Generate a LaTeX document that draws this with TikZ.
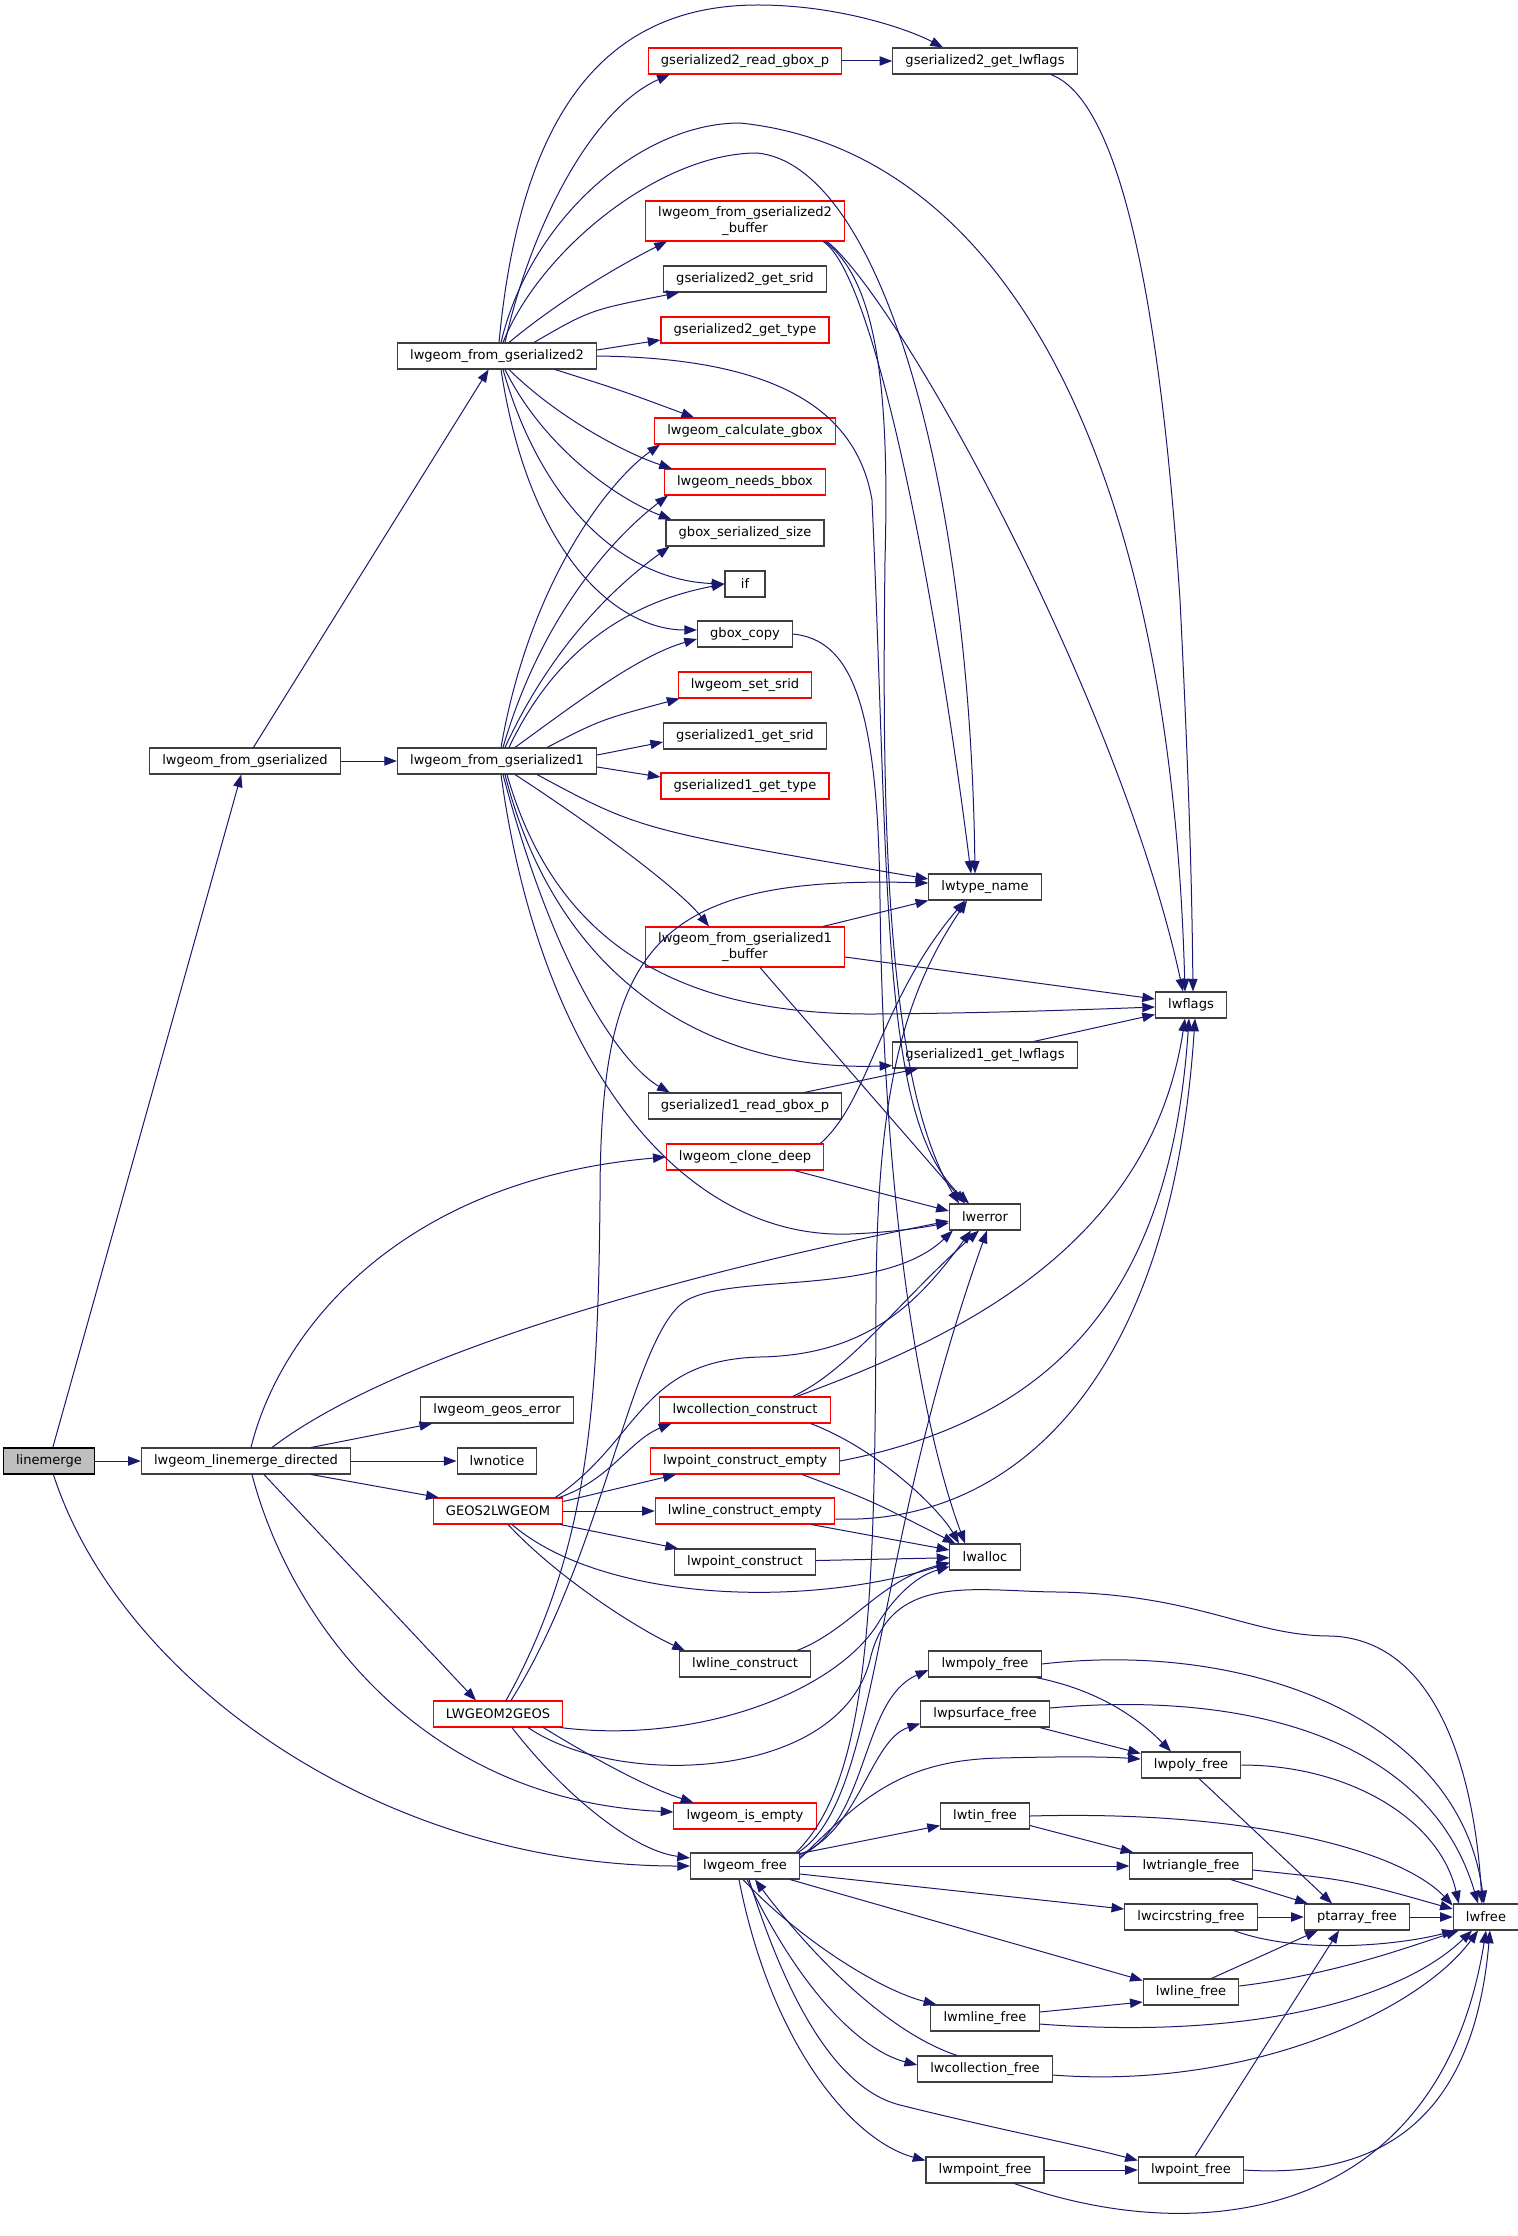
\documentclass[tikz,border=0pt]{standalone}
\usepackage{fontspec}
\setmainfont{DejaVu Sans}
\usepackage{xcolor}
\usepackage{tikz}
\usetikzlibrary{calc,arrows.meta}
\definecolor{callblue}{HTML}{191970}
\definecolor{boxline}{HTML}{3F3F3F}
\definecolor{truncred}{HTML}{FF0000}
\definecolor{rootgray}{HTML}{BFBFBF}
\tikzset{
  fnbox/.style={draw=boxline, fill=white, line width=0.8pt, rectangle,
    minimum height=19.5pt, minimum width=30pt, inner xsep=9.5pt, inner ysep=2pt,
    font=\fontsize{9.8}{11.5}\selectfont},
  fntrunc/.style={fnbox, draw=truncred},
  fnroot/.style={fnbox, draw=black, fill=rootgray},
  twoline/.style={align=center, minimum height=30pt},
  callarrow/.style={draw=callblue, line width=0.75pt, -{Triangle[length=9.5pt,width=7pt]}}
}
\begin{document}
\begin{tikzpicture}[x=0.75pt,y=-0.75pt]
  \useasboundingbox (0,0) rectangle (1517,2236);

  % callers
  \node[fnroot] (lm) at (49,1461) {linemerge};
  \node[fnbox] (lfg) at (245,761) {lwgeom\_from\_gserialized};
  \node[fnbox] (ld) at (246,1461) {lwgeom\_linemerge\_directed};
  \node[fnbox] (g2) at (497,356) {lwgeom\_from\_gserialized2};
  \node[fnbox] (g1) at (497,761) {lwgeom\_from\_gserialized1};
  \node[fnbox] (geoserr) at (497,1410) {lwgeom\_geos\_error};
  \node[fnbox] (notice) at (497,1461) {lwnotice};
  \node[fntrunc] (g2l) at (498,1511) {GEOS2LWGEOM};
  \node[fntrunc] (l2g) at (498,1714) {LWGEOM2GEOS};

  % middle column
  \node[fntrunc] (g2rgb) at (745,61) {gserialized2\_read\_gbox\_p};
  \node[fntrunc, twoline] (gs2buf) at (745,221) {lwgeom\_from\_gserialized2\\\_buffer};
  \node[fnbox] (g2srid) at (745,279) {gserialized2\_get\_srid};
  \node[fntrunc] (g2type) at (745,330) {gserialized2\_get\_type};
  \node[fntrunc] (calcgbox) at (745,431) {lwgeom\_calculate\_gbox};
  \node[fntrunc] (needsbbox) at (745,482) {lwgeom\_needs\_bbox};
  \node[fnbox] (gsersize) at (745,533) {gbox\_serialized\_size};
  \node[fnbox] (if) at (745,584) {if};
  \node[fnbox] (gboxcopy) at (745,634) {gbox\_copy};
  \node[fntrunc] (setsrid) at (745,685) {lwgeom\_set\_srid};
  \node[fnbox] (g1srid) at (745,736) {gserialized1\_get\_srid};
  \node[fntrunc] (g1type) at (745,786) {gserialized1\_get\_type};
  \node[fntrunc, twoline] (gs1buf) at (745,947) {lwgeom\_from\_gserialized1\\\_buffer};
  \node[fnbox] (g1rgb) at (745,1106) {gserialized1\_read\_gbox\_p};
  \node[fntrunc] (clone) at (745,1157) {lwgeom\_clone\_deep};
  \node[fntrunc] (collcons) at (745,1410) {lwcollection\_construct};
  \node[fntrunc] (ptce) at (745,1461) {lwpoint\_construct\_empty};
  \node[fntrunc] (lnce) at (745,1511) {lwline\_construct\_empty};
  \node[fnbox] (ptc) at (745,1562) {lwpoint\_construct};
  \node[fnbox] (lnc) at (745,1664) {lwline\_construct};
  \node[fntrunc] (isempty) at (745,1816) {lwgeom\_is\_empty};
  \node[fnbox] (gfree) at (745,1866) {lwgeom\_free};

  % right columns
  \node[fnbox] (g2lf) at (985,61) {gserialized2\_get\_lwflags};
  \node[fnbox] (lwtn) at (985,887) {lwtype\_name};
  \node[fnbox] (g1lf) at (985,1055) {gserialized1\_get\_lwflags};
  \node[fnbox] (lwerr) at (985,1217) {lwerror};
  \node[fnbox] (lwalloc) at (985,1557) {lwalloc};
  \node[fnbox] (mpoly) at (985,1664) {lwmpoly\_free};
  \node[fnbox] (psurf) at (985,1714) {lwpsurface\_free};
  \node[fnbox] (tin) at (985,1816) {lwtin\_free};
  \node[fnbox] (mline) at (985,2018) {lwmline\_free};
  \node[fnbox] (collfree) at (985,2069) {lwcollection\_free};
  \node[fnbox] (mpoint) at (985,2170) {lwmpoint\_free};
  \node[fnbox] (lwflags) at (1191,1005) {lwflags};
  \node[fnbox] (polyfree) at (1191,1765) {lwpoly\_free};
  \node[fnbox] (trifree) at (1191,1866) {lwtriangle\_free};
  \node[fnbox] (circfree) at (1191,1917) {lwcircstring\_free};
  \node[fnbox] (linefree) at (1191,1992) {lwline\_free};
  \node[fnbox] (pointfree) at (1191,2170) {lwpoint\_free};
  \node[fnbox] (ptarray) at (1357,1917) {ptarray\_free};
  \node[fnbox] (lwfree) at (1486,1917) {lwfree};

  % linemerge and lwgeom_from_gserialized
  \draw[callarrow] (lm) -- (lfg);
  \draw[callarrow] (lm) -- (ld);
  \draw[callarrow] (lm) .. controls (120,1680) and (380,1866) .. (gfree.west);
  \draw[callarrow] (lfg) -- (g2);
  \draw[callarrow] (lfg) -- (g1);

  % lwgeom_from_gserialized2
  \draw[callarrow] ($(g2.north)+(8,0)$) .. controls (530,230) and (590,110) .. ($(g2rgb.south west)+(22,0)$);
  \draw[callarrow] ($(g2.north)+(2,0)$) .. controls (520,120) and (600,5) .. (758,5) .. controls (840,5) and (910,30) .. ($(g2lf.north)+(-42,0)$);
  \draw[callarrow] ($(g2.north)+(4,0)$) .. controls (530,220) and (640,123) .. (740,123) .. controls (1000,150) and (1170,450) .. ($(lwflags.north)+(-6,0)$);
  \draw[callarrow] ($(g2.north)+(12,0)$) .. controls (560,300) and (620,265) .. ($(gs2buf.south west)+(22,0)$);
  \draw[callarrow] ($(g2.north)+(37,0)$) .. controls (590,310) .. ($(g2srid.south west)+(16,0)$);
  \draw[callarrow] ($(g2.east)+(0,-6)$) -- ($(g2type.west)+(0,10)$);
  \draw[callarrow] ($(g2.north)+(6,0)$) .. controls (540,250) and (660,153) .. (757,153) .. controls (880,165) and (970,480) .. ($(lwtn.north)+(-10,0)$);
  \draw[callarrow] (g2.east) .. controls (760,358) and (855,400) .. (872,500) .. controls (890,900) and (880,1120) .. ($(lwerr.north)+(-16,0)$);
  \draw[callarrow] ($(g2.south)+(58,0)$) .. controls (620,390) .. ($(calcgbox.north west)+(40,0)$);
  \draw[callarrow] ($(g2.south)+(12,0)$) .. controls (560,420) and (630,455) .. ($(needsbbox.north west)+(8,0)$);
  \draw[callarrow] ($(g2.south)+(8,0)$) .. controls (545,450) and (620,500) .. ($(gsersize.north west)+(6,0)$);
  \draw[callarrow] ($(g2.south)+(6,0)$) .. controls (540,500) and (620,580) .. (if.west);
  \draw[callarrow] ($(g2.south)+(4,0)$) .. controls (530,560) and (620,630) .. ($(gboxcopy.west)+(0,-4)$);

  % lwgeom_from_gserialized1
  \draw[callarrow] ($(g1.north)+(4,0)$) .. controls (530,580) and (610,480) .. ($(calcgbox.south west)+(6,0)$);
  \draw[callarrow] ($(g1.north)+(6,0)$) .. controls (540,620) and (610,540) .. ($(needsbbox.south west)+(4,0)$);
  \draw[callarrow] ($(g1.north)+(8,0)$) .. controls (550,650) and (610,590) .. ($(gsersize.south west)+(4,0)$);
  \draw[callarrow] ($(g1.north)+(12,0)$) .. controls (560,640) and (640,600) .. (if.west);
  \draw[callarrow] ($(g1.north)+(18,0)$) .. controls (580,700) and (640,655) .. ($(gboxcopy.west)+(0,5)$);
  \draw[callarrow] ($(g1.north)+(50,0)$) .. controls (600,720) .. ($(setsrid.south west)+(2,0)$);
  \draw[callarrow] ($(g1.east)+(0,-6)$) -- ($(g1srid.west)+(0,6)$);
  \draw[callarrow] ($(g1.east)+(0,6)$) -- ($(g1type.west)+(0,-9)$);
  \draw[callarrow] ($(g1.south)+(40,0)$) .. controls (640,830) .. ($(lwtn.west)+(0,-8)$);
  \draw[callarrow] ($(g1.south)+(18,0)$) .. controls (600,830) and (680,890) .. ($(gs1buf.north)+(-36,0)$);
  \draw[callarrow] ($(g1.south)+(10,0)$) .. controls (560,960) and (700,1015) .. (875,1014) .. controls (1000,1013) and (1100,1009) .. ($(lwflags.west)+(0,2)$);
  \draw[callarrow] ($(g1.south)+(8,0)$) .. controls (560,990) and (720,1072) .. ($(g1lf.south west)+(0,-3)$);
  \draw[callarrow] ($(g1.south)+(6,0)$) .. controls (560,990) and (630,1070) .. ($(g1rgb.north west)+(22,0)$);
  \draw[callarrow] ($(g1.south)+(4,0)$) .. controls (540,1060) and (680,1240) .. (850,1234) .. controls (900,1232) and (930,1226) .. ($(lwerr.west)+(0,6)$);

  % helpers of the readers
  \draw[callarrow] (g2rgb) -- (g2lf);
  \draw[callarrow] ($(g2lf.south east)+(-27,0)$) .. controls (1120,100) and (1160,300) .. (1180,600) .. controls (1190,800) and (1192,900) .. ($(lwflags.north)+(2,0)$);
  \draw[callarrow] ($(gs2buf.south east)+(-22,0)$) .. controls (870,270) and (930,550) .. ($(lwtn.north)+(-14,0)$);
  \draw[callarrow] ($(gs2buf.south east)+(-20,0)$) .. controls (875,280) and (890,380) .. (885,560) .. controls (882,800) and (884,1080) .. ($(lwerr.north)+(-26,0)$);
  \draw[callarrow] ($(gs2buf.south east)+(-18,0)$) .. controls (900,300) and (1120,700) .. ($(lwflags.north)+(-8,0)$);
  \draw[callarrow] (gboxcopy.east) .. controls (850,640) and (878,700) .. (880,900) .. controls (884,1250) and (930,1450) .. ($(lwalloc.north)+(-20,0)$);
  \draw[callarrow] ($(gs1buf.north east)+(-22,0)$) -- (lwtn.south west);
  \draw[callarrow] ($(gs1buf.east)+(0,10)$) -- ($(lwflags.west)+(0,-6)$);
  \draw[callarrow] ($(gs1buf.south)+(15,0)$) -- ($(lwerr.north)+(-20,0)$);
  \draw[callarrow] ($(g1rgb.north east)+(-38,0)$) -- ($(g1lf.south west)+(26,0)$);
  \draw[callarrow] ($(g1lf.north east)+(-44,0)$) -- ($(lwflags.south west)+(0,-4)$);
  \draw[callarrow] ($(clone.north east)+(-4,0)$) .. controls (870,1100) and (880,1000) .. ($(lwtn.south)+(-20,0)$);
  \draw[callarrow] ($(clone.south east)+(-30,0)$) -- ($(lwerr.west)+(0,-6)$);

  % lwgeom_linemerge_directed
  \draw[callarrow] ($(ld.north)+(5,0)$) .. controls (280,1330) and (400,1180) .. (clone.west);
  \draw[callarrow] ($(ld.north)+(26,0)$) .. controls (400,1350) and (700,1270) .. ($(lwerr.west)+(0,4)$);
  \draw[callarrow] ($(ld.north east)+(-40,0)$) -- ($(geoserr.south west)+(12,0)$);
  \draw[callarrow] (ld) -- (notice);
  \draw[callarrow] ($(ld.south east)+(-40,0)$) -- ($(g2l.north west)+(6,0)$);
  \draw[callarrow] ($(ld.south)+(18,0)$) -- ($(l2g.north)+(-22,0)$);
  \draw[callarrow] ($(ld.south)+(6,0)$) .. controls (290,1620) and (420,1800) .. ($(isempty.west)+(0,-4)$);

  % GEOS2LWGEOM
  \draw[callarrow] ($(g2l.north east)+(-4,0)$) .. controls (610,1480) and (630,1440) .. ($(collcons.south west)+(12,0)$);
  \draw[callarrow] ($(g2l.north east)+(0,4)$) -- ($(ptce.south west)+(26,0)$);
  \draw[callarrow] (g2l) -- (lnce);
  \draw[callarrow] ($(g2l.south east)+(-3,0)$) -- ($(ptc.north west)+(4,0)$);
  \draw[callarrow] ($(g2l.south)+(10,0)$) .. controls (560,1580) and (640,1630) .. ($(lnc.north west)+(6,0)$);
  \draw[callarrow] ($(g2l.south)+(14,0)$) .. controls (600,1600) and (800,1610) .. ($(lwalloc.west)+(0,6)$);
  \draw[callarrow] ($(g2l.north east)+(-8,0)$) .. controls (640,1440) and (640,1360) .. (760,1357) .. controls (870,1355) and (920,1300) .. ($(lwerr.south)+(-14,0)$);

  % LWGEOM2GEOS
  \draw[callarrow] ($(l2g.north)+(8,0)$) .. controls (590,1550) and (598,1400) .. (600,1200) .. controls (600,950) and (650,875) .. ($(lwtn.west)+(0,-4)$);
  \draw[callarrow] ($(l2g.north)+(13,0)$) .. controls (600,1560) and (630,1350) .. (680,1305) .. controls (720,1270) and (880,1300) .. ($(lwerr.south west)+(4,0)$);
  \draw[callarrow] ($(l2g.south east)+(-3,0)$) .. controls (700,1745) and (840,1690) .. (880,1620) .. controls (900,1590) and (920,1575) .. ($(lwalloc.south west)+(0,-4)$);
  \draw[callarrow] ($(l2g.south)+(30,0)$) .. controls (620,1790) and (840,1780) .. (870,1660) .. controls (890,1570) and (980,1592) .. (1060,1592) .. controls (1200,1595) and (1250,1636) .. (1331,1636) .. controls (1440,1640) and (1475,1780) .. ($(lwfree.north)+(-4,0)$);
  \draw[callarrow] ($(l2g.south east)+(-20,0)$) .. controls (580,1750) and (640,1785) .. ($(isempty.north west)+(20,0)$);
  \draw[callarrow] ($(l2g.south)+(14,0)$) .. controls (560,1790) and (630,1850) .. ($(gfree.west)+(0,-8)$);

  % constructors
  \draw[callarrow] ($(collcons.north east)+(-38,0)$) .. controls (850,1370) and (900,1300) .. ($(lwerr.south)+(-6,0)$);
  \draw[callarrow] ($(collcons.north east)+(-34,0)$) .. controls (950,1340) and (1150,1250) .. ($(lwflags.south)+(-6,0)$);
  \draw[callarrow] ($(collcons.south east)+(-20,0)$) .. controls (880,1450) and (940,1510) .. ($(lwalloc.north)+(-26,0)$);
  \draw[callarrow] (ptce.east) .. controls (1050,1420) and (1170,1300) .. ($(lwflags.south)+(-2,0)$);
  \draw[callarrow] ($(ptce.south east)+(-38,0)$) .. controls (870,1500) .. ($(lwalloc.north west)+(6,0)$);
  \draw[callarrow] ($(lnce.east)+(0,8)$) .. controls (1000,1525) and (1170,1400) .. ($(lwflags.south)+(4,0)$);
  \draw[callarrow] ($(lnce.south east)+(-24,0)$) -- ($(lwalloc.west)+(0,-7)$);
  \draw[callarrow] (ptc) -- (lwalloc);
  \draw[callarrow] ($(lnc.north east)+(-14,0)$) .. controls (850,1630) and (880,1580) .. ($(lwalloc.south west)+(0,-8)$);

  % lwgeom_free
  \draw[callarrow] ($(gfree.north east)+(0,4)$) .. controls (870,1820) and (860,1700) .. ($(mpoly.west)+(0,6)$);
  \draw[callarrow] ($(gfree.north east)+(0,2)$) .. controls (860,1830) and (870,1740) .. ($(psurf.south west)+(0,-4)$);
  \draw[callarrow] ($(gfree.north east)+(0,6)$) .. controls (860,1800) and (900,1760) .. (1000,1758) .. controls (1080,1756) and (1110,1757) .. ($(polyfree.west)+(0,-6)$);
  \draw[callarrow] ($(gfree.north east)+(0,1)$) -- ($(tin.south west)+(0,-4)$);
  \draw[callarrow] (gfree) -- (trifree);
  \draw[callarrow] ($(gfree.east)+(0,8)$) -- ($(circfree.west)+(0,-8)$);
  \draw[callarrow] ($(gfree.south east)+(-10,0)$) -- ($(linefree.north west)+(0,2)$);
  \draw[callarrow] ($(gfree.south)+(-2,0)$) .. controls (800,1940) and (880,1990) .. ($(mline.north west)+(6,0)$);
  \draw[callarrow] ($(gfree.south)+(2,0)$) .. controls (800,1990) and (860,2050) .. ($(collfree.west)+(0,-4)$);
  \draw[callarrow] ($(gfree.south)+(4,0)$) .. controls (790,2010) and (840,2090) .. (900,2105) .. controls (1000,2130) and (1080,2145) .. ($(pointfree.north west)+(0,4)$);
  \draw[callarrow] ($(gfree.south)+(-6,0)$) .. controls (770,2040) and (850,2140) .. ($(mpoint.north west)+(0,4)$);
  \draw[callarrow] ($(gfree.north east)+(-2,0)$) .. controls (880,1800) and (870,1560) .. ($(lwerr.south)+(2,0)$);
  \draw[callarrow] ($(gfree.north east)+(-4,0)$) .. controls (870,1780) and (875,1600) .. (876,1300) .. controls (877,1100) and (900,1000) .. ($(lwtn.south)+(-18,0)$);
  \draw[callarrow] ($(collfree.north west)+(40,0)$) .. controls (880,2030) and (800,1940) .. ($(gfree.south)+(10,0)$);

  % the free functions
  \draw[callarrow] ($(mpoly.south east)+(-6,0)$) .. controls (1100,1690) and (1140,1720) .. ($(polyfree.north)+(-20,0)$);
  \draw[callarrow] (mpoly.east) .. controls (1250,1640) and (1460,1720) .. ($(lwfree.north)+(-2,0)$);
  \draw[callarrow] ($(psurf.south east)+(-10,0)$) -- ($(polyfree.north west)+(0,2)$);
  \draw[callarrow] ($(psurf.east)+(0,-6)$) .. controls (1250,1690) and (1430,1740) .. ($(lwfree.north)+(-8,0)$);
  \draw[callarrow] ($(polyfree.south)+(8,0)$) -- ($(ptarray.north)+(-25,0)$);
  \draw[callarrow] (polyfree.east) .. controls (1350,1765) and (1440,1820) .. ($(lwfree.north west)+(6,0)$);
  \draw[callarrow] ($(tin.south east)+(0,-4)$) -- ($(trifree.north west)+(4,0)$);
  \draw[callarrow] (tin.east) .. controls (1250,1810) and (1400,1850) .. ($(lwfree.north west)+(0,2)$);
  \draw[callarrow] ($(trifree.south east)+(-22,0)$) -- ($(ptarray.north west)+(4,0)$);
  \draw[callarrow] ($(trifree.east)+(0,4)$) .. controls (1350,1880) .. ($(lwfree.west)+(0,-8)$);
  \draw[callarrow] (circfree) -- (ptarray);
  \draw[callarrow] ($(circfree.south east)+(-24,0)$) .. controls (1300,1955) and (1400,1945) .. ($(lwfree.south west)+(2,0)$);
  \draw[callarrow] (ptarray) -- (lwfree);
  \draw[callarrow] ($(linefree.north east)+(-28,0)$) -- ($(ptarray.south west)+(14,0)$);
  \draw[callarrow] ($(linefree.east)+(0,-6)$) .. controls (1330,1975) and (1400,1950) .. ($(lwfree.south west)+(6,0)$);
  \draw[callarrow] ($(mline.east)+(0,-6)$) -- ($(linefree.west)+(0,10)$);
  \draw[callarrow] ($(mline.east)+(0,6)$) .. controls (1250,2040) and (1400,2000) .. ($(lwfree.south)+(-14,0)$);
  \draw[callarrow] ($(collfree.east)+(0,6)$) .. controls (1250,2090) and (1420,2010) .. ($(lwfree.south)+(-8,0)$);
  \draw[callarrow] (mpoint) -- (pointfree);
  \draw[callarrow] ($(mpoint.south east)+(-30,0)$) .. controls (1200,2250) and (1440,2220) .. (lwfree.south);
  \draw[callarrow] ($(pointfree.north)+(4,0)$) -- ($(ptarray.south)+(-18,0)$);
  \draw[callarrow] (pointfree.east) .. controls (1400,2180) and (1475,2100) .. ($(lwfree.south)+(4,0)$);
\end{tikzpicture}
\end{document}
